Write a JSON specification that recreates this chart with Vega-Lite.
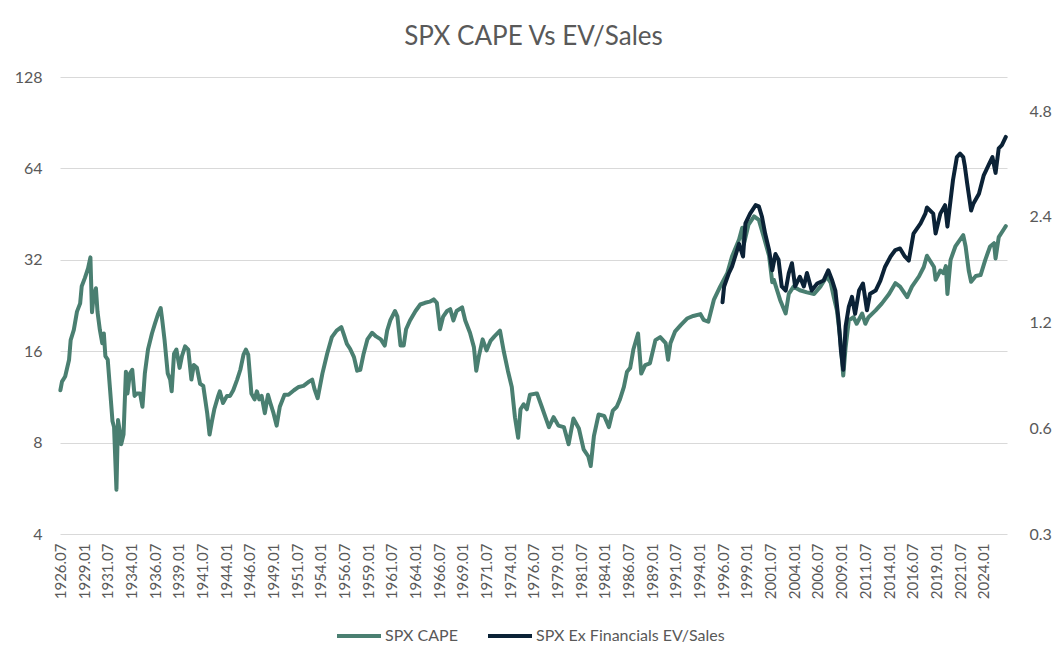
{
  "$schema": "https://vega.github.io/schema/vega-lite/v6.json",
  "width": 947,
  "height": 457,
  "autosize": {"type": "none"},
  "padding": {"left": 60, "top": 77, "right": 55, "bottom": 135},
  "background": "white",
  "title": {"text": "SPX CAPE Vs EV/Sales", "fontSize": 26, "font": "Lato", "fontWeight": "normal", "color": "#595959", "offset": 19, "anchor": "middle"},
  "datasets": {
    "cape": [
      {"d":"1926-07-01","v":11.9},{"d":"1926-09-01","v":12.7},{"d":"1927-01-01","v":13.2},{"d":"1927-06-01","v":15.0},{"d":"1927-08-01","v":17.4},{"d":"1927-12-01","v":18.8},
      {"d":"1928-04-01","v":21.6},{"d":"1928-08-01","v":23.0},{"d":"1928-10-01","v":26.2},{"d":"1929-02-01","v":27.9},{"d":"1929-06-01","v":30.0},{"d":"1929-09-01","v":32.6},
      {"d":"1929-11-01","v":21.5},{"d":"1930-01-01","v":24.2},{"d":"1930-04-01","v":25.8},{"d":"1930-06-01","v":21.6},{"d":"1930-09-01","v":18.8},{"d":"1930-12-01","v":17.0},
      {"d":"1931-02-01","v":18.3},{"d":"1931-04-01","v":15.4},{"d":"1931-07-01","v":15.0},{"d":"1931-10-01","v":11.9},{"d":"1932-01-01","v":9.4},{"d":"1932-03-01","v":9.0},
      {"d":"1932-06-01","v":5.6},{"d":"1932-08-01","v":9.5},{"d":"1932-10-01","v":8.8},{"d":"1932-12-01","v":7.9},{"d":"1933-03-01","v":8.5},{"d":"1933-06-01","v":13.7},
      {"d":"1933-08-01","v":11.6},{"d":"1933-11-01","v":13.5},{"d":"1934-02-01","v":13.9},{"d":"1934-05-01","v":11.4},{"d":"1934-08-01","v":11.6},{"d":"1934-12-01","v":11.6},
      {"d":"1935-03-01","v":10.5},{"d":"1935-06-01","v":13.5},{"d":"1935-10-01","v":16.2},{"d":"1936-03-01","v":18.3},{"d":"1936-07-01","v":19.8},{"d":"1936-11-01","v":21.3},
      {"d":"1937-02-01","v":22.2},{"d":"1937-04-01","v":20.3},{"d":"1937-07-01","v":17.4},{"d":"1937-11-01","v":13.5},{"d":"1938-02-01","v":12.9},{"d":"1938-04-01","v":11.8},
      {"d":"1938-07-01","v":15.7},{"d":"1938-10-01","v":16.2},{"d":"1939-02-01","v":14.1},{"d":"1939-05-01","v":15.4},{"d":"1939-09-01","v":16.6},{"d":"1940-01-01","v":16.2},
      {"d":"1940-05-01","v":12.9},{"d":"1940-08-01","v":14.4},{"d":"1940-12-01","v":14.1},{"d":"1941-04-01","v":12.5},{"d":"1941-08-01","v":12.3},{"d":"1942-01-01","v":10.0},
      {"d":"1942-04-01","v":8.5},{"d":"1942-07-01","v":9.4},{"d":"1942-10-01","v":10.3},{"d":"1943-03-01","v":11.4},{"d":"1943-05-01","v":11.8},{"d":"1943-09-01","v":10.8},
      {"d":"1944-02-01","v":11.4},{"d":"1944-06-01","v":11.4},{"d":"1944-10-01","v":11.9},{"d":"1945-03-01","v":12.9},{"d":"1945-07-01","v":13.9},{"d":"1945-11-01","v":15.6},
      {"d":"1946-02-01","v":16.2},{"d":"1946-05-01","v":15.6},{"d":"1946-07-01","v":13.5},{"d":"1946-09-01","v":11.6},{"d":"1947-01-01","v":11.1},{"d":"1947-04-01","v":11.8},
      {"d":"1947-07-01","v":11.1},{"d":"1947-10-01","v":11.4},{"d":"1948-02-01","v":10.0},{"d":"1948-06-01","v":11.5},{"d":"1948-09-01","v":10.8},{"d":"1949-01-01","v":10.0},
      {"d":"1949-05-01","v":9.1},{"d":"1949-09-01","v":10.5},{"d":"1950-03-01","v":11.5},{"d":"1950-08-01","v":11.5},{"d":"1951-03-01","v":11.9},{"d":"1951-09-01","v":12.2},
      {"d":"1952-03-01","v":12.3},{"d":"1952-10-01","v":12.7},{"d":"1953-02-01","v":12.9},{"d":"1953-05-01","v":12.0},{"d":"1953-09-01","v":11.2},{"d":"1954-03-01","v":13.5},
      {"d":"1954-09-01","v":15.7},{"d":"1955-03-01","v":17.8},{"d":"1955-09-01","v":18.7},{"d":"1956-03-01","v":19.2},{"d":"1956-06-01","v":18.2},{"d":"1956-10-01","v":16.9},
      {"d":"1957-02-01","v":16.3},{"d":"1957-07-01","v":15.3},{"d":"1957-11-01","v":13.8},{"d":"1958-03-01","v":13.9},{"d":"1958-07-01","v":15.6},{"d":"1958-12-01","v":17.5},
      {"d":"1959-06-01","v":18.4},{"d":"1959-11-01","v":17.9},{"d":"1960-05-01","v":17.5},{"d":"1960-10-01","v":16.7},{"d":"1961-01-01","v":18.7},{"d":"1961-05-01","v":20.2},
      {"d":"1961-11-01","v":21.7},{"d":"1962-02-01","v":20.8},{"d":"1962-06-01","v":16.7},{"d":"1962-10-01","v":16.7},{"d":"1963-01-01","v":18.9},{"d":"1963-06-01","v":20.2},
      {"d":"1964-01-01","v":21.7},{"d":"1964-07-01","v":22.8},{"d":"1965-01-01","v":23.1},{"d":"1965-07-01","v":23.3},{"d":"1965-12-01","v":23.7},{"d":"1966-04-01","v":23.1},
      {"d":"1966-08-01","v":18.9},{"d":"1966-12-01","v":20.8},{"d":"1967-05-01","v":21.7},{"d":"1967-09-01","v":22.0},{"d":"1968-01-01","v":20.2},{"d":"1968-05-01","v":21.7},
      {"d":"1968-12-01","v":22.3},{"d":"1969-04-01","v":20.2},{"d":"1969-10-01","v":18.4},{"d":"1970-03-01","v":16.5},{"d":"1970-06-01","v":13.8},{"d":"1970-09-01","v":15.3},
      {"d":"1971-02-01","v":17.5},{"d":"1971-07-01","v":16.1},{"d":"1971-12-01","v":17.3},{"d":"1972-05-01","v":17.9},{"d":"1972-12-01","v":18.7},{"d":"1973-05-01","v":15.9},
      {"d":"1973-10-01","v":13.8},{"d":"1974-03-01","v":12.2},{"d":"1974-07-01","v":9.7},{"d":"1974-11-01","v":8.3},{"d":"1975-02-01","v":10.3},{"d":"1975-06-01","v":10.7},
      {"d":"1975-10-01","v":10.3},{"d":"1976-02-01","v":11.5},{"d":"1976-09-01","v":11.6},{"d":"1976-11-01","v":11.6},{"d":"1977-05-01","v":10.5},{"d":"1978-02-01","v":9.0},
      {"d":"1978-08-01","v":9.7},{"d":"1979-02-01","v":9.1},{"d":"1979-09-01","v":9.0},{"d":"1980-03-01","v":7.9},{"d":"1980-09-01","v":9.6},{"d":"1981-04-01","v":8.9},
      {"d":"1981-10-01","v":7.6},{"d":"1982-04-01","v":7.2},{"d":"1982-07-01","v":6.7},{"d":"1982-11-01","v":8.4},{"d":"1983-05-01","v":9.9},{"d":"1983-12-01","v":9.8},
      {"d":"1984-06-01","v":9.0},{"d":"1984-11-01","v":10.2},{"d":"1985-04-01","v":10.5},{"d":"1985-08-01","v":11.1},{"d":"1986-01-01","v":12.2},{"d":"1986-05-01","v":13.7},
      {"d":"1986-09-01","v":14.1},{"d":"1987-01-01","v":16.2},{"d":"1987-07-01","v":18.3},{"d":"1987-11-01","v":13.5},{"d":"1988-04-01","v":14.4},{"d":"1988-10-01","v":14.6},
      {"d":"1989-05-01","v":17.4},{"d":"1989-11-01","v":17.8},{"d":"1990-06-01","v":17.0},{"d":"1990-09-01","v":15.0},{"d":"1990-12-01","v":17.0},{"d":"1991-06-01","v":18.6},
      {"d":"1992-01-01","v":19.5},{"d":"1992-09-01","v":20.5},{"d":"1993-05-01","v":20.9},{"d":"1994-02-01","v":21.2},{"d":"1994-06-01","v":20.3},{"d":"1994-12-01","v":20.0},
      {"d":"1995-07-01","v":23.6},{"d":"1996-03-01","v":26.1},{"d":"1996-12-01","v":28.9},{"d":"1997-06-01","v":32.8},{"d":"1998-03-01","v":37.3},{"d":"1998-07-01","v":40.8},
      {"d":"1998-09-01","v":36.0},{"d":"1999-03-01","v":41.8},{"d":"1999-10-01","v":44.5},{"d":"2000-04-01","v":43.3},{"d":"2000-10-01","v":38.3},{"d":"2001-05-01","v":33.0},
      {"d":"2001-09-01","v":27.0},{"d":"2001-11-01","v":27.5},{"d":"2002-07-01","v":23.6},{"d":"2003-02-01","v":21.3},{"d":"2003-06-01","v":24.7},{"d":"2003-12-01","v":26.1},
      {"d":"2004-08-01","v":25.4},{"d":"2005-05-01","v":25.0},{"d":"2006-02-01","v":24.7},{"d":"2006-10-01","v":26.1},{"d":"2007-06-01","v":28.2},{"d":"2007-11-01","v":26.9},
      {"d":"2008-03-01","v":24.1},{"d":"2008-07-01","v":21.8},{"d":"2008-11-01","v":17.8},{"d":"2009-03-01","v":13.3},{"d":"2009-06-01","v":16.5},{"d":"2009-10-01","v":20.2},
      {"d":"2010-04-01","v":20.7},{"d":"2010-08-01","v":19.7},{"d":"2011-03-01","v":21.3},{"d":"2011-07-01","v":19.7},{"d":"2011-11-01","v":20.7},{"d":"2012-08-01","v":21.8},
      {"d":"2013-04-01","v":23.0},{"d":"2014-01-01","v":24.7},{"d":"2014-09-01","v":26.8},{"d":"2015-03-01","v":26.1},{"d":"2015-12-01","v":24.1},{"d":"2016-06-01","v":26.1},
      {"d":"2017-03-01","v":28.2},{"d":"2017-09-01","v":30.3},{"d":"2018-01-01","v":33.0},{"d":"2018-10-01","v":30.3},{"d":"2018-12-01","v":27.5},{"d":"2019-06-01","v":29.5},
      {"d":"2019-10-01","v":28.9},{"d":"2020-01-01","v":30.5},{"d":"2020-03-01","v":24.7},{"d":"2020-07-01","v":32.0},{"d":"2021-01-01","v":35.4},{"d":"2021-11-01","v":38.6},
      {"d":"2022-02-01","v":35.4},{"d":"2022-06-01","v":29.5},{"d":"2022-09-01","v":27.1},{"d":"2023-03-01","v":28.3},{"d":"2023-09-01","v":28.5},{"d":"2024-03-01","v":32.0},
      {"d":"2024-09-01","v":35.4},{"d":"2025-02-01","v":36.3},{"d":"2025-04-01","v":32.3},{"d":"2025-08-01","v":38.0},{"d":"2026-02-01","v":40.2},{"d":"2026-05-01","v":41.3}
    ],
    "evs": [
      {"d":"1996-06-01","v":1.37},{"d":"1996-08-01","v":1.52},{"d":"1997-02-01","v":1.66},{"d":"1997-06-01","v":1.73},{"d":"1997-10-01","v":1.85},{"d":"1998-03-01","v":2.01},
      {"d":"1998-08-01","v":1.85},{"d":"1998-11-01","v":2.30},{"d":"1999-05-01","v":2.45},{"d":"1999-12-01","v":2.59},{"d":"2000-04-01","v":2.57},{"d":"2000-08-01","v":2.40},
      {"d":"2000-12-01","v":2.15},{"d":"2001-05-01","v":1.93},{"d":"2001-09-01","v":1.69},{"d":"2002-01-01","v":1.88},{"d":"2002-05-01","v":1.81},{"d":"2002-09-01","v":1.52},
      {"d":"2003-02-01","v":1.48},{"d":"2003-06-01","v":1.66},{"d":"2003-10-01","v":1.77},{"d":"2004-02-01","v":1.52},{"d":"2004-08-01","v":1.62},{"d":"2005-01-01","v":1.52},
      {"d":"2005-05-01","v":1.66},{"d":"2005-11-01","v":1.48},{"d":"2006-06-01","v":1.55},{"d":"2007-02-01","v":1.58},{"d":"2007-08-01","v":1.69},{"d":"2008-01-01","v":1.58},
      {"d":"2008-05-01","v":1.48},{"d":"2008-09-01","v":1.22},{"d":"2008-12-01","v":1.00},{"d":"2009-03-01","v":0.88},{"d":"2009-06-01","v":1.17},{"d":"2009-10-01","v":1.33},
      {"d":"2010-02-01","v":1.42},{"d":"2010-06-01","v":1.27},{"d":"2010-11-01","v":1.48},{"d":"2011-04-01","v":1.55},{"d":"2011-09-01","v":1.30},{"d":"2012-01-01","v":1.45},
      {"d":"2012-08-01","v":1.48},{"d":"2013-02-01","v":1.58},{"d":"2013-08-01","v":1.73},{"d":"2014-03-01","v":1.85},{"d":"2014-09-01","v":1.93},{"d":"2015-03-01","v":1.95},
      {"d":"2015-09-01","v":1.85},{"d":"2016-02-01","v":1.80},{"d":"2016-08-01","v":2.15},{"d":"2017-05-01","v":2.30},{"d":"2017-11-01","v":2.45},{"d":"2018-01-01","v":2.55},
      {"d":"2018-09-01","v":2.45},{"d":"2018-12-01","v":2.15},{"d":"2019-06-01","v":2.45},{"d":"2019-12-01","v":2.59},{"d":"2020-03-01","v":2.25},{"d":"2020-07-01","v":2.68},
      {"d":"2020-10-01","v":3.05},{"d":"2021-03-01","v":3.55},{"d":"2021-07-01","v":3.63},{"d":"2021-11-01","v":3.55},{"d":"2022-01-01","v":3.35},{"d":"2022-04-01","v":2.99},
      {"d":"2022-09-01","v":2.50},{"d":"2022-12-01","v":2.62},{"d":"2023-07-01","v":2.79},{"d":"2024-01-01","v":3.15},{"d":"2024-08-01","v":3.40},{"d":"2024-12-01","v":3.55},
      {"d":"2025-04-01","v":3.20},{"d":"2025-08-01","v":3.76},{"d":"2025-12-01","v":3.84},{"d":"2026-05-01","v":4.05}
    ]
  },
  "encoding": {
    "x": {
      "field": "d", "type": "temporal",
      "scale": {"type": "utc", "domain": [{"year": 1926, "month": 6, "date": 16, "utc": true}, {"year": 2026, "month": 6, "date": 16, "utc": true}]},
      "axis": {
        "title": null, "labelExpr": "utcFormat(datum.value, '%Y.%m')", "labelAngle": -90, "labelOverlap": false, "labelFlush": false, "labelBound": false,
        "grid": false, "ticks": false, "domain": false, "labelPadding": 9, "labelFontSize": 15, "labelColor": "#595959", "labelFont": "Lato",
        "values": [
          {"year":1926,"month":7,"date":1,"utc":true},{"year":1929,"month":1,"date":1,"utc":true},{"year":1931,"month":7,"date":1,"utc":true},{"year":1934,"month":1,"date":1,"utc":true},
          {"year":1936,"month":7,"date":1,"utc":true},{"year":1939,"month":1,"date":1,"utc":true},{"year":1941,"month":7,"date":1,"utc":true},{"year":1944,"month":1,"date":1,"utc":true},
          {"year":1946,"month":7,"date":1,"utc":true},{"year":1949,"month":1,"date":1,"utc":true},{"year":1951,"month":7,"date":1,"utc":true},{"year":1954,"month":1,"date":1,"utc":true},
          {"year":1956,"month":7,"date":1,"utc":true},{"year":1959,"month":1,"date":1,"utc":true},{"year":1961,"month":7,"date":1,"utc":true},{"year":1964,"month":1,"date":1,"utc":true},
          {"year":1966,"month":7,"date":1,"utc":true},{"year":1969,"month":1,"date":1,"utc":true},{"year":1971,"month":7,"date":1,"utc":true},{"year":1974,"month":1,"date":1,"utc":true},
          {"year":1976,"month":7,"date":1,"utc":true},{"year":1979,"month":1,"date":1,"utc":true},{"year":1981,"month":7,"date":1,"utc":true},{"year":1984,"month":1,"date":1,"utc":true},
          {"year":1986,"month":7,"date":1,"utc":true},{"year":1989,"month":1,"date":1,"utc":true},{"year":1991,"month":7,"date":1,"utc":true},{"year":1994,"month":1,"date":1,"utc":true},
          {"year":1996,"month":7,"date":1,"utc":true},{"year":1999,"month":1,"date":1,"utc":true},{"year":2001,"month":7,"date":1,"utc":true},{"year":2004,"month":1,"date":1,"utc":true},
          {"year":2006,"month":7,"date":1,"utc":true},{"year":2009,"month":1,"date":1,"utc":true},{"year":2011,"month":7,"date":1,"utc":true},{"year":2014,"month":1,"date":1,"utc":true},
          {"year":2016,"month":7,"date":1,"utc":true},{"year":2019,"month":1,"date":1,"utc":true},{"year":2021,"month":7,"date":1,"utc":true},{"year":2024,"month":1,"date":1,"utc":true}
        ]
      }
    }
  },
  "layer": [
    {
      "data": {"name": "cape"},
      "mark": {"type": "line", "strokeWidth": 4, "strokeJoin": "round", "strokeCap": "round"},
      "encoding": {
        "y": {
          "field": "v", "type": "quantitative",
          "scale": {"type": "log", "base": 2, "domain": [4, 128], "nice": false, "zero": false},
          "axis": {"orient": "left", "title": null, "values": [4, 8, 16, 32, 64, 128], "format": "d", "grid": true, "gridColor": "#D9D9D9", "gridWidth": 1,
                   "domain": false, "ticks": false, "labelPadding": 18, "labelFontSize": 16, "labelColor": "#595959", "labelFont": "Lato"}
        },
        "color": {
          "datum": "SPX CAPE", "type": "nominal",
          "scale": {"domain": ["SPX CAPE", "SPX Ex Financials EV/Sales"], "range": ["#4A7F71", "#0B2236"]},
          "legend": {"orient": "none", "legendX": 275, "legendY": 535, "direction": "horizontal", "title": null, "symbolType": "stroke",
                     "symbolSize": 1936, "symbolStrokeWidth": 4, "labelFontSize": 16, "labelColor": "#595959", "labelFont": "Lato", "labelLimit": 400,
                     "columnPadding": 22, "labelOffset": 2, "padding": 0}
        }
      }
    },
    {
      "data": {"name": "evs"},
      "mark": {"type": "line", "strokeWidth": 4, "strokeJoin": "round", "strokeCap": "round"},
      "encoding": {
        "y": {
          "field": "v", "type": "quantitative",
          "scale": {"type": "log", "base": 2, "domain": [0.3, 6], "nice": false, "zero": false},
          "axis": {"orient": "right", "title": null, "values": [0.3, 0.6, 1.2, 2.4, 4.8], "format": ".1f", "grid": false,
                   "domain": false, "ticks": false, "labelPadding": 22, "labelFontSize": 16, "labelColor": "#595959", "labelFont": "Lato"}
        },
        "color": {"datum": "SPX Ex Financials EV/Sales", "type": "nominal"}
      }
    }
  ],
  "resolve": {"scale": {"y": "independent"}, "axis": {"y": "independent"}},
  "config": {"font": "Lato", "view": {"stroke": null}}
}
